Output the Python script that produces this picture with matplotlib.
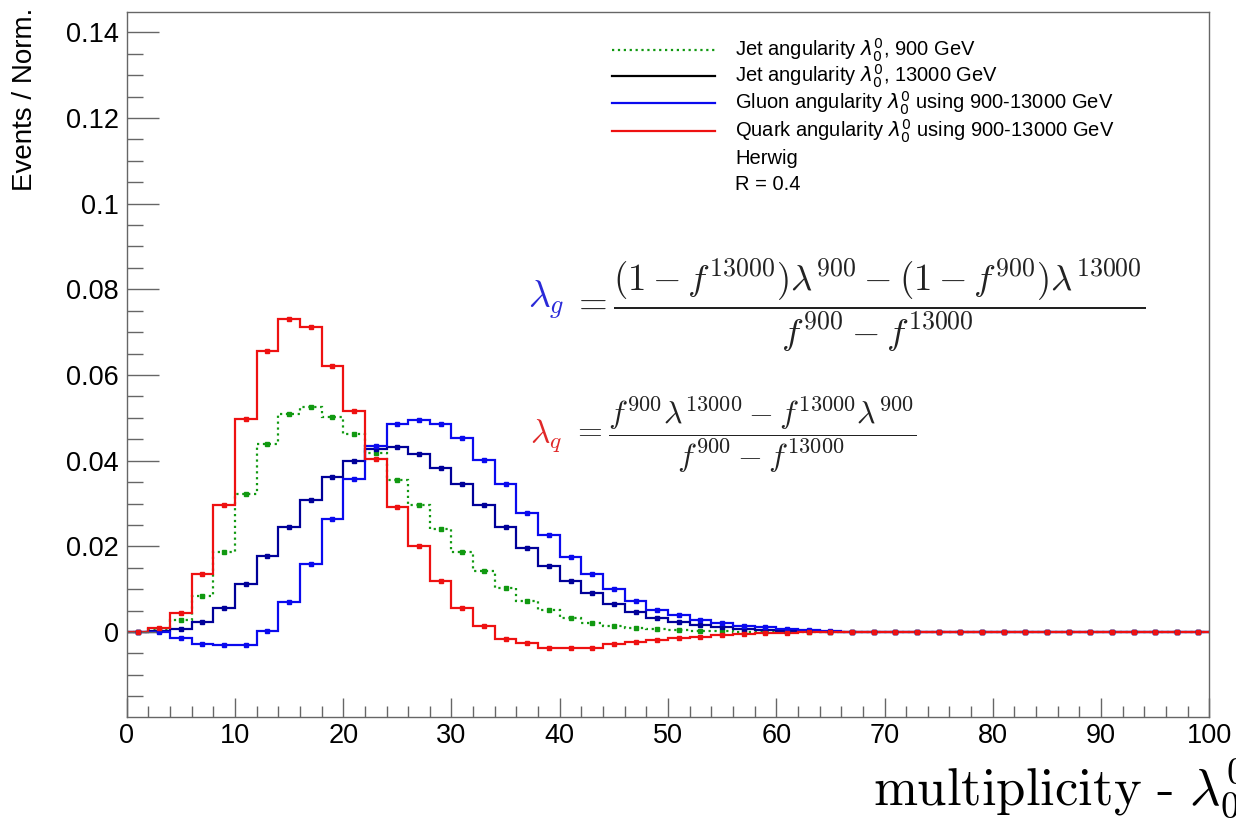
import matplotlib
matplotlib.use("Agg")
import matplotlib.pyplot as plt
import numpy as np
from matplotlib.lines import Line2D
from matplotlib.ticker import MultipleLocator, FuncFormatter

# bin edges: 50 bins of width 2 from 0 to 100
edges = np.arange(0, 101, 2)

# values (first 35 bins, rest are ~0)
jet_900 = [0.0, 0.0006, 0.0028, 0.0085, 0.0188, 0.0322, 0.0439, 0.0509, 0.0526, 0.0503,
           0.0463, 0.0417, 0.0355, 0.0297, 0.0241, 0.0187, 0.0143, 0.0102, 0.0073, 0.0051,
           0.0032, 0.0020, 0.0014, 0.0009, 0.0006, 0.0004, 0.0003, 0.0002, 0.0001, 0.0001,
           0.0001, 0.0, 0.0, 0.0, 0.0]
jet_13000 = [0.0, 0.0002, 0.0006, 0.0024, 0.0057, 0.0111, 0.0178, 0.0246, 0.0308, 0.0361,
             0.0400, 0.0428, 0.0431, 0.0416, 0.0384, 0.0346, 0.0297, 0.0246, 0.0196, 0.0155,
             0.0118, 0.0090, 0.0065, 0.0047, 0.0032, 0.0023, 0.0016, 0.0012, 0.0008, 0.0005,
             0.0003, 0.0002, 0.0001, 0.0, 0.0]
gluon = [0.0, 0.0, -0.0015, -0.0029, -0.0030, -0.0030, 0.0002, 0.0069, 0.0160, 0.0264,
         0.0357, 0.0434, 0.0485, 0.0494, 0.0485, 0.0453, 0.0402, 0.0345, 0.0279, 0.0226,
         0.0176, 0.0135, 0.0100, 0.0072, 0.0051, 0.0040, 0.0028, 0.0020, 0.0015, 0.0011,
         0.0008, 0.0005, 0.0002, 0.0001, 0.0]
quark = [0.0, 0.0010, 0.0045, 0.0135, 0.0297, 0.0498, 0.0657, 0.0731, 0.0711, 0.0622,
         0.0515, 0.0405, 0.0292, 0.0202, 0.0118, 0.0055, 0.0014, -0.0016, -0.0026, -0.0038,
         -0.0037, -0.0037, -0.0028, -0.0023, -0.0018, -0.0015, -0.0011, -0.0008, -0.0004, -0.0003,
         -0.0002, -0.0001, -0.0001, 0.0, 0.0]

legend_labels = [
    r'Jet angularity $\lambda_0^0$, 900 GeV',
    r'Jet angularity $\lambda_0^0$, 13000 GeV',
    r'Gluon angularity $\lambda_0^0$ using 900-13000 GeV',
    r'Quark angularity $\lambda_0^0$ using 900-13000 GeV',
    'Herwig',
    'R = 0.4',
]

n_bins = len(edges) - 1
def pad(v):
    return np.array(v + [0.0] * (n_bins - len(v)))

# (values, line colour, style, legend key colour)
series = [
    (pad(jet_900), '#119911', ':', '#119911'),
    (pad(jet_13000), '#000099', '-', 'black'),
    (pad(gluon), '#0a0aee', '-', '#0a0aee'),
    (pad(quark), '#ee1111', '-', '#ee1111'),
]

fig = plt.figure(figsize=(12.36, 8.18), dpi=100)
ax = fig.add_axes([0.1025, 0.1231, 0.8759, 0.8626])

centers = (edges[:-1] + edges[1:]) / 2
for vals, col, ls, _ in series:
    ax.stairs(vals, edges, baseline=None, color=col, linestyle=ls, linewidth=1.6)
    ax.plot(centers, vals, linestyle='none', marker='s', markersize=3, color=col)

ax.set_xlim(0, 100)
ax.set_ylim(-0.0199, 0.1448)

frame_col = '#666666'
for s in ax.spines.values():
    s.set_color(frame_col)
    s.set_linewidth(1.0)

ax.xaxis.set_major_locator(MultipleLocator(10))
ax.xaxis.set_minor_locator(MultipleLocator(2))
ax.yaxis.set_major_locator(MultipleLocator(0.02))
ax.yaxis.set_minor_locator(MultipleLocator(0.005))
ax.yaxis.set_major_formatter(FuncFormatter(lambda v, p: '%g' % round(v, 4)))
ax.tick_params(axis='both', which='both', direction='in', color=frame_col, width=1.0)
ax.tick_params(axis='y', which='major', length=23, pad=5.5, labelsize=19.5)
ax.tick_params(axis='y', which='minor', length=11.5)
ax.tick_params(axis='x', which='major', length=14, pad=4, labelsize=19.5)
ax.tick_params(axis='x', which='minor', length=8)
for lab in ax.get_xticklabels() + ax.get_yticklabels():
    lab.set_family('Liberation Sans')

fig.text(25 / 1236, 1 - 8 / 818, 'Events / Norm.', rotation=90, ha='center', va='top',
         fontsize=20, family='Liberation Sans')
fig.text(873 / 1236, 1 - 804 / 818, r'$\mathrm{multiplicity\ \text{-}\ }\lambda_0^0$', ha='left',
         va='baseline', fontsize=38, math_fontfamily='cm')

# legend, drawn by hand so the rows keep an even spacing
row_y = [50, 76, 103, 131, 159, 185]
for i, lab in enumerate(legend_labels):
    yf = 1 - row_y[i] / 818
    if i < len(series):
        _, col, ls, key = series[i]
        fig.add_artist(Line2D([612 / 1236, 715 / 1236], [yf, yf], color=key, linestyle=ls,
                              linewidth=1.6, transform=fig.transFigure))
    fig.text(735 / 1236, yf, lab, ha='left', va='center', fontsize=14.5,
             family='Liberation Sans', math_fontfamily='dejavusans')

# formulas
fcol = '#222222'
def axfrac(px, py):
    return (px - 126.7) / 1082.6, (717.3 - py) / 705.6

ax.text(*axfrac(528, 300), r'$\lambda_g$', color='#2a2ad8', transform=ax.transAxes,
        fontsize=27, math_fontfamily='cm', ha='left', va='center')
ax.text(*axfrac(572, 305),
        r'$= \dfrac{(1-f^{13000})\lambda^{900} - (1-f^{900})\lambda^{13000}}{f^{900} - f^{13000}}$',
        color=fcol, fontsize=26.5, math_fontfamily='cm', ha='left', va='center',
        transform=ax.transAxes)
ax.text(*axfrac(530, 436), r'$\lambda_q$', color='#e02828', transform=ax.transAxes,
        fontsize=24, math_fontfamily='cm', ha='left', va='center')
ax.text(*axfrac(572, 435),
        r'$= \dfrac{f^{900}\lambda^{13000} - f^{13000}\lambda^{900}}{f^{900} - f^{13000}}$',
        color=fcol, fontsize=23, math_fontfamily='cm', ha='left', va='center',
        transform=ax.transAxes)

fig.savefig('out.png', dpi=100)
